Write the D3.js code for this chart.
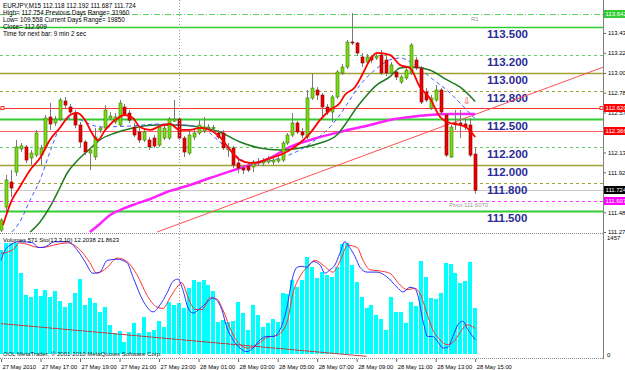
<!DOCTYPE html>
<html>
<head>
<meta charset="utf-8">
<script src="https://cdn.jsdelivr.net/npm/d3@7"></script>
<style>
body { margin: 0; background: #fff; }
svg { display: block; font-family: "Liberation Sans", Arial, sans-serif; }
</style>
</head>
<body>
<svg id="chart"></svg>
<script>
// ---- data ----
// candles, one per M15 bar from 27 May 15:00 to 28 May 15:00 : [open, high, low, close]
let candles = [
  [111.291,111.422,111.270,111.400],[111.541,111.890,111.487,111.836],[111.814,111.944,111.651,111.748],
  [111.922,112.271,111.879,112.195],[112.173,112.238,112.140,112.206],[112.195,112.216,112.021,112.053],
  [112.075,112.162,111.999,112.129],[112.107,112.379,112.086,112.347],[112.107,112.216,111.999,112.184],
  [112.184,112.543,112.162,112.510],[112.521,112.673,112.379,112.445],[112.456,112.532,112.423,112.499],
  [112.499,112.728,112.477,112.706],[112.695,112.739,112.619,112.651],[112.630,112.662,112.554,112.575],
  [112.564,112.597,112.401,112.434],[112.434,112.467,112.184,112.249],[112.249,112.271,112.107,112.140],
  [112.129,112.184,111.944,112.162],[112.086,112.401,112.053,112.303],[112.379,112.423,112.347,112.401],
  [112.401,112.651,112.379,112.597],[112.510,112.575,112.487,112.532],[112.467,112.564,112.445,112.521],
  [112.434,112.706,112.412,112.673],[112.630,112.662,112.532,112.554],[112.564,112.597,112.456,112.487],
  [112.412,112.456,112.303,112.325],[112.358,112.401,112.238,112.271],[112.271,112.390,112.249,112.358],
  [112.271,112.303,112.162,112.195],[112.292,112.325,112.184,112.206],[112.216,112.445,112.195,112.412],
  [112.292,112.434,112.271,112.401],[112.292,112.521,112.271,112.499],[112.477,112.706,112.467,112.499],
  [112.499,112.521,112.271,112.292],[112.292,112.314,112.086,112.140],[112.129,112.379,112.107,112.325],
  [112.303,112.379,112.271,112.347],[112.347,112.487,112.325,112.434],[112.369,112.521,112.347,112.412],
  [112.401,112.445,112.379,112.412],[112.401,112.434,112.369,112.405],[112.347,112.379,112.282,112.303],
  [112.347,112.379,112.162,112.184],[112.162,112.238,112.086,112.195],[112.184,112.206,111.966,111.999],
  [112.021,112.053,111.912,111.966],[111.966,111.999,111.901,111.944],[111.988,112.021,111.922,111.944],
  [111.977,112.053,111.922,112.032],[112.021,112.075,111.988,112.032],[112.021,112.075,111.988,112.042],
  [112.032,112.097,112.010,112.064],[112.032,112.086,111.999,112.053],[112.042,112.097,112.021,112.064],
  [112.053,112.260,112.032,112.238],[112.238,112.347,112.216,112.325],[112.325,112.564,112.303,112.456],
  [112.456,112.477,112.336,112.358],[112.358,112.401,112.292,112.325],[112.303,112.815,112.282,112.728],
  [112.728,113.000,112.706,112.836],[112.815,112.847,112.706,112.760],[112.760,112.782,112.521,112.630],
  [112.630,112.662,112.543,112.575],[112.575,112.760,112.467,112.739],[112.739,113.032,112.717,113.011],
  [113.000,113.098,112.978,113.065],[113.065,113.359,113.043,113.337],[113.337,113.653,113.304,113.326],
  [113.326,113.337,113.185,113.217],[113.174,113.217,113.065,113.109],[113.119,113.206,113.087,113.174],
  [113.174,113.196,113.109,113.141],[113.163,113.206,113.141,113.185],[113.196,113.250,112.978,113.000],
  [113.141,113.217,112.967,113.000],[113.000,113.119,112.978,113.087],[113.011,113.032,112.924,112.956],
  [112.902,112.978,112.880,112.956],[112.945,113.065,112.924,113.032],[113.000,113.326,112.978,113.304],
  [113.141,113.174,113.032,113.054],[113.054,113.076,112.662,112.684],[112.793,112.836,112.684,112.706],
  [112.619,112.760,112.597,112.728],[112.706,112.869,112.684,112.815],[112.815,112.836,112.543,112.575],
  [112.543,112.564,112.086,112.107],[112.086,112.434,112.075,112.412],[112.456,112.597,112.379,112.445],
  [112.456,112.597,112.292,112.434],[112.445,112.510,112.379,112.412],[112.434,112.510,112.086,112.107],
  [112.118,112.192,111.687,111.724]
]

let volumes = [
  1295,1382,1382,1382,1008,735,710,809,722,797,710,784,660,585,635,759,934,610,697,635,
  523,585,361,261,286,149,274,386,261,461,274,299,411,336,647,610,635,573,822,921,
  896,921,859,784,398,423,398,411,647,510,299,610,486,336,386,436,398,759,747,921,
  834,921,1208,1083,946,1021,984,959,1083,1370,1382,1108,896,710,573,610,486,436,299,710,
  523,523,386,647,598,1158,959,697,685,759,1133,1121,1008,884,909,1145,571
]

// moving averages read at sample bars : [bar, price]
let maFast = [
  [0.4,111.346],[2.2,111.618],[3.8,111.760],[5.9,111.945],[7.9,112.075],[9.9,112.271],[11.9,112.402],
  [14.0,112.543],[15.4,112.565],[17.0,112.489],[18.4,112.347],[19.6,112.271],[21.1,112.380],[23.1,112.489],
  [25.1,112.543],[26.7,112.510],[28.1,112.413],[30.2,112.380],[32.2,112.423],[34.2,112.445],[36.2,112.380],
  [38.3,112.380],[40.3,112.402],[42.3,112.380],[44.3,112.304],[46.4,112.162],[48.4,112.053],[50.4,112.021],
  [52.4,112.032],[54.5,112.075],[56.5,112.108],[58.5,112.162],[60.5,112.238],[62.6,112.347],[64.6,112.489],
  [66.6,112.597],[68.6,112.674],[69.6,112.761],[71.7,112.848],[73.1,112.978],[74.7,113.142],[76.1,113.218],
  [78.7,113.196],[80.8,113.087],[82.8,113.054],[84.8,112.848],[86.8,112.728],[88.9,112.521],[90.9,112.456],
  [92.9,112.434],[94.1,112.413],[96,112.304]
]
let maMid = [
  [5.9,111.270],[7.9,111.379],[9.9,111.542],[11.9,111.749],[13.4,111.912],[15.0,112.021],[16.6,112.108],
  [18.4,112.195],[20.0,112.271],[23.1,112.347],[26.7,112.402],[31.4,112.434],[35.2,112.434],[40.3,112.413],
  [44.3,112.358],[48.4,112.249],[52.4,112.184],[56.5,112.162],[60.5,112.184],[64.6,112.238],[68.0,112.325],
  [69.6,112.434],[72.1,112.630],[74.1,112.761],[76.1,112.870],[78.7,112.957],[80.8,113.054],[83.4,113.065],
  [86.8,113.033],[90.3,112.924],[92.9,112.848],[96,112.690]
]
let maDashed = [
  [2.2,111.270],[3.8,111.379],[5.9,111.618],[7.9,111.836],[9.9,112.140],[11.9,112.402],[14.6,112.521],
  [17.0,112.467],[20.0,112.413],[26.1,112.423],[32.2,112.445],[40.3,112.413],[44.3,112.249],[47.4,112.108],
  [50.4,112.021],[53.4,112.032],[56.5,112.075],[60.5,112.162],[63.6,112.271],[66.6,112.413],[68.6,112.543],
  [70.6,112.706],[72.7,112.870],[75.7,113.033],[78.7,113.142],[80.8,113.163],[83.8,113.087],[86.8,112.957],
  [90.9,112.783],[93.9,112.619],[96,112.500]
]
let maSlow = [
  [18.0,111.270],[20.0,111.357],[22.1,111.455],[24.1,111.509],[26.7,111.564],[30.2,111.629],[33.6,111.705],
  [38.3,111.781],[42.3,111.858],[48.4,111.966],[54.5,112.075],[58.5,112.195],[62.6,112.271],[68.6,112.358],
  [74.7,112.434],[78.7,112.489],[82.8,112.521],[86.8,112.543],[90.9,112.554],[96,112.554]
]

// stochastic lines : [bar, value 0-100]
let stochMain = [
  [0,80],[1.2,91],[3.8,96],[6.5,95],[7.5,91],[8.5,91],[10.9,96],[13.4,96],[15.4,89],[17.0,79],[18.6,69],
  [20.0,70],[21.5,80],[23.5,81],[25.5,78],[26.7,66],[28.7,46],[30.8,36],[32.2,42],[33.6,52],[34.8,62],
  [35.8,64],[36.8,55],[37.9,39],[38.9,35],[40.3,39],[41.7,44],[42.9,48],[43.7,46],[44.7,38],[45.7,23],
  [47.0,12],[48.4,5],[49.8,2],[51.0,5],[52.4,12],[53.8,15],[55.1,15],[56.5,21],[57.9,40],[58.9,63],
  [59.9,74],[60.9,75],[61.9,74],[63.2,79],[64.6,76],[65.6,69],[66.6,72],[67.6,76],[68.6,86],[69.6,96],
  [70.6,91],[71.7,83],[72.7,74],[74.1,70],[76.1,70],[78.1,66],[80.2,57],[81.4,53],[82.8,57],[83.8,56],
  [84.4,50],[85.4,29],[86.4,15],[87.4,15],[88.5,10],[89.5,5],[90.5,6],[91.5,15],[92.5,25],[93.5,28],
  [94.5,21],[96,12.2]
]
let stochSignal = [
  [0,86],[2.4,89],[3.8,95],[7.9,91],[13.4,95],[16.0,89],[18.0,78],[19.4,69],[21.5,74],[23.5,82],[25.5,79],
  [27.5,68],[29.6,50],[31.6,40],[32.8,39],[34.2,48],[35.6,57],[36.6,61],[37.9,48],[39.3,38],[40.7,38],
  [42.3,48],[43.7,47],[44.9,38],[46.8,18],[48.4,8],[50.0,5],[51.8,8],[53.8,14],[55.9,16],[57.9,27],
  [59.1,52],[60.5,66],[61.9,74],[63.6,80],[65.2,76],[67.2,70],[68.6,79],[70.2,93],[72.1,91],[73.3,80],
  [74.7,72],[76.7,71],[78.7,69],[80.8,59],[82.2,55],[83.8,56],[84.8,52],[86.2,35],[87.4,21],[88.9,12],
  [90.3,8],[91.5,10],[92.9,18],[94.3,25],[96,21.9]
]

// trend lines : [bar, value]
let mainTrend = [[31.6,111.270],[122,113.065]]
let stochTrend = [[0,26],[74,-2]]

// horizontal levels
let levelPrices = [113.642,113.5,113.2,113.0,112.8,112.620,112.5,112.366,112.2,112.0,111.8,111.724,111.607,111.5]
let zoneLabels = [113.5,113.2,113.0,112.8,112.5,112.2,112.0,111.8,111.5]
let priceTicks = [113.435,113.220,113.000,112.785,112.570,112.135,111.920,111.485,111.270]
let markerPrices = [113.642,112.620,112.366,111.724,111.607]

let timeTickBars = [0,8,16,24,32,40,48,56,64,72,80,88,96]
let timeLabels = ['27 May 2010','27 May 17:00','27 May 19:00','27 May 21:00','27 May 23:00','28 May 01:00',
  '28 May 03:00','28 May 05:00','28 May 07:00','28 May 09:00','28 May 11:00','28 May 13:00','28 May 15:00']

let headerLines = [
  'EURJPY,M15  112.118 112.192 111.687 111.724',
  'High= 112.754    Previous Days Range= 31960',
  'Low= 109.558    Current Days Range= 19850',
  'Close= 112.609',
  'Time for next bar: 9 min 2 sec'
]
let panelLabel = 'Volumes 571  Sto(13,3,10) 12.2038 21.8623'
let copyright = 'OOL MetaTrader, \u00a9 2001-2010 MetaQuotes Software Corp.'

// ---- layout ----
let width = 625
let height = 370
let axisX = 603
let mainBottom = 233
let subTop = 236
let subBottom = 358
let smallFont = '6px'

let svg = d3.select('#chart').attr('width', width).attr('height', height)

let x = d3.scaleLinear().domain([0, 96]).range([1, 475.2])
let y = d3.scaleLinear().domain([111.270, 113.794]).range([232, 0])
let yVol = d3.scaleLinear().domain([0, 1457]).range([354, 237])
let yStoch = d3.scaleLinear().domain([0, 100]).range([354, 237])

let defs = svg.append('defs')
defs.append('clipPath').attr('id', 'clipMain')
  .append('rect').attr('x', 0).attr('y', 0).attr('width', axisX).attr('height', mainBottom)
defs.append('clipPath').attr('id', 'clipSub')
  .append('rect').attr('x', 0).attr('y', subTop).attr('width', axisX).attr('height', subBottom - subTop)

let main = svg.append('g').attr('clip-path', 'url(#clipMain)')
let sub = svg.append('g').attr('clip-path', 'url(#clipSub)')

// horizontal levels
let levelStyle = [
  {c: '#5fcf5f', w: 1, d: '6,2,1,2'},
  {c: '#33cc33', w: 1.5, d: null},
  {c: '#66cc66', w: 1, d: '3,3'},
  {c: '#a0a030', w: 1.5, d: null},
  {c: '#a0a030', w: 1, d: '3,3'},
  {c: '#ff3030', w: 1, d: null},
  {c: '#33cc33', w: 2, d: null},
  {c: '#ff6060', w: 1, d: null},
  {c: '#66cc66', w: 1, d: '3,3'},
  {c: '#a0a030', w: 1.5, d: null},
  {c: '#a0a030', w: 1, d: '3,3'},
  {c: '#c8c8c8', w: 1, d: null},
  {c: '#ff33ff', w: 1, d: '3,3'},
  {c: '#33cc33', w: 2, d: null}
]
main.selectAll('line.level')
  .data(levelPrices)
  .enter()
  .append('line')
  .attr('class', 'level')
  .attr('x1', 0).attr('x2', axisX)
  .attr('y1', d => Math.round(y(d)) + 0.5)
  .attr('y2', d => Math.round(y(d)) + 0.5)
  .attr('stroke', (d, i) => levelStyle[i].c)
  .attr('stroke-width', (d, i) => levelStyle[i].w)
  .attr('stroke-dasharray', (d, i) => levelStyle[i].d)

// small squares at the ends of the red line
main.append('rect').attr('x', 1).attr('y', Math.round(y(112.620)) - 1.5).attr('width', 3).attr('height', 3)
  .attr('fill', '#fff').attr('stroke', '#ff3030')
svg.append('rect').attr('x', axisX - 3).attr('y', Math.round(y(112.620)) - 1.5).attr('width', 3).attr('height', 3)
  .attr('fill', '#fff').attr('stroke', '#ff3030')

// day separator
svg.append('line')
  .attr('x1', Math.round(x(36)) + 0.5).attr('x2', Math.round(x(36)) + 0.5)
  .attr('y1', 0).attr('y2', subBottom)
  .attr('stroke', '#999').attr('stroke-dasharray', '1,2')

// big level labels
main.selectAll('text.zone')
  .data(zoneLabels)
  .enter()
  .append('text')
  .attr('class', 'zone')
  .attr('x', 487)
  .attr('y', d => y(d) + 11)
  .attr('font-size', '11.5px')
  .attr('font-weight', 'bold')
  .attr('fill', '#2b2b96')
  .text(d => d.toFixed(3))

main.append('text').attr('x', 471).attr('y', 21).attr('font-size', smallFont).attr('fill', '#999').text('R1')
main.append('text').attr('x', 449).attr('y', 207).attr('font-size', smallFont).attr('fill', '#999')
  .text('Pivot  111.6070')

// trend line
let lineXY = d3.line().x(d => x(d[0])).y(d => y(d[1]))
main.append('path').attr('d', lineXY(mainTrend))
  .attr('fill', 'none').attr('stroke', '#ff5050').attr('stroke-width', 1)

// moving averages
let maLine = d3.line().x(d => x(d[0])).y(d => y(d[1])).curve(d3.curveMonotoneX)
main.append('path').attr('d', maLine(maSlow))
  .attr('fill', 'none').attr('stroke', '#ff22ff').attr('stroke-width', 2.5)
main.append('path').attr('d', maLine(maMid))
  .attr('fill', 'none').attr('stroke', '#1f7a1f').attr('stroke-width', 1.5)
main.append('path').attr('d', maLine(maDashed))
  .attr('fill', 'none').attr('stroke', '#4060ff').attr('stroke-width', 1).attr('stroke-dasharray', '4,3')

// candles
let candleG = main.append('g')
candleG.selectAll('line.wick')
  .data(candles)
  .enter()
  .append('line')
  .attr('class', 'wick')
  .attr('x1', (d, i) => Math.round(x(i)) + 0.5)
  .attr('x2', (d, i) => Math.round(x(i)) + 0.5)
  .attr('y1', d => y(d[1]))
  .attr('y2', d => y(d[2]))
  .attr('stroke', '#7a7a7a')
candleG.selectAll('rect.body')
  .data(candles)
  .enter()
  .append('rect')
  .attr('class', 'body')
  .attr('x', (d, i) => Math.round(x(i)) - 1)
  .attr('width', 3)
  .attr('y', d => y(Math.max(d[0], d[3])))
  .attr('height', d => Math.max(1, Math.abs(y(d[0]) - y(d[3]))))
  .attr('fill', d => d[3] >= d[0] ? '#77dd11' : '#ee0000')
  .attr('stroke', d => d[3] >= d[0] ? '#3d7a00' : '#880000')
  .attr('stroke-width', 0.6)

main.append('path').attr('d', maLine(maFast))
  .attr('fill', 'none').attr('stroke', '#ff0000').attr('stroke-width', 1.8)

main.append('text').attr('x', 463).attr('y', 104).attr('font-size', '9px').attr('fill', '#ff3030').text('\u21e9')

// header text
svg.append('g').selectAll('text')
  .data(headerLines)
  .enter()
  .append('text')
  .attr('x', 3)
  .attr('y', (d, i) => 8 + i * 7)
  .attr('font-size', '6.3px')
  .attr('fill', '#000')
  .text(d => d)

// panel separators
svg.append('line').attr('x1', 0).attr('x2', axisX).attr('y1', mainBottom + 0.5).attr('y2', mainBottom + 0.5)
  .attr('stroke', '#888').attr('stroke-dasharray', '1,1')
svg.append('line').attr('x1', 0).attr('x2', axisX).attr('y1', subBottom + 0.5).attr('y2', subBottom + 0.5)
  .attr('stroke', '#888').attr('stroke-dasharray', '1,1')

// volumes
sub.selectAll('rect.vol')
  .data(volumes)
  .enter()
  .append('rect')
  .attr('class', 'vol')
  .attr('x', (d, i) => Math.round(x(i)) - 2)
  .attr('width', 4)
  .attr('y', d => yVol(d))
  .attr('height', d => yVol(0) - yVol(d))
  .attr('fill', '#00ffff')
  .attr('shape-rendering', 'crispEdges')

let stLine = d3.line().x(d => x(d[0])).y(d => yStoch(d[1])).curve(d3.curveMonotoneX)
sub.append('path').attr('d', d3.line().x(d => x(d[0])).y(d => yStoch(d[1]))(stochTrend))
  .attr('fill', 'none').attr('stroke', '#c04040').attr('stroke-width', 1)
sub.append('path').attr('d', stLine(stochSignal))
  .attr('fill', 'none').attr('stroke', '#ff3030').attr('stroke-width', 1)
sub.append('path').attr('d', stLine(stochMain))
  .attr('fill', 'none').attr('stroke', '#3030ff').attr('stroke-width', 1)

svg.append('text').attr('x', 3).attr('y', 242).attr('font-size', smallFont).attr('fill', '#000').text(panelLabel)
svg.append('text').attr('x', 3).attr('y', 356).attr('font-size', smallFont).attr('fill', '#222').text(copyright)

// right price axis
let yAxis = d3.axisRight(y)
  .tickValues(priceTicks)
  .tickSize(3)
  .tickPadding(2)
  .tickFormat(d3.format('.3f'))
let yAxisG = svg.append('g').attr('transform', 'translate(' + axisX + ',0)').call(yAxis)
yAxisG.select('.domain').remove()
yAxisG.selectAll('text').attr('font-size', smallFont).attr('font-family', '"Liberation Sans", Arial, sans-serif').attr('fill', '#000')
yAxisG.selectAll('line').attr('stroke', '#666')

svg.append('line').attr('x1', axisX + 0.5).attr('x2', axisX + 0.5).attr('y1', 0).attr('y2', subBottom + 1)
  .attr('stroke', '#808080')

// coloured price markers
let markerFill = ['#33cc33', '#ff0000', '#ff0000', '#000000', '#ff00ff']
let markers = svg.append('g').selectAll('g')
  .data(markerPrices)
  .enter()
  .append('g')
  .attr('transform', d => 'translate(' + (axisX + 1) + ',' + Math.round(y(d)) + ')')
markers.append('rect')
  .attr('x', 0).attr('y', -4).attr('width', 22).attr('height', 8)
  .attr('fill', (d, i) => markerFill[i])
markers.append('text')
  .attr('x', 1.5).attr('y', 2.2)
  .attr('font-size', smallFont)
  .attr('fill', '#fff')
  .text(d => d.toFixed(3))

// volume axis
svg.append('text').attr('x', axisX + 4).attr('y', 240).attr('font-size', smallFont).text('1457')
svg.append('text').attr('x', axisX + 4).attr('y', 357).attr('font-size', smallFont).text('0')

// time axis
let xAxis = d3.axisBottom(x)
  .tickValues(timeTickBars)
  .tickSize(3)
  .tickPadding(3)
  .tickFormat((d, i) => timeLabels[i])
let xAxisG = svg.append('g').attr('transform', 'translate(0,' + (subBottom + 1) + ')').call(xAxis)
xAxisG.select('.domain').remove()
xAxisG.selectAll('text')
  .attr('text-anchor', 'start')
  .attr('dx', '1px')
  .attr('font-size', '5.8px')
  .attr('font-family', '"Liberation Sans", Arial, sans-serif')
  .attr('fill', '#000')
xAxisG.selectAll('line').attr('stroke', '#666')
</script>
</body>
</html>
